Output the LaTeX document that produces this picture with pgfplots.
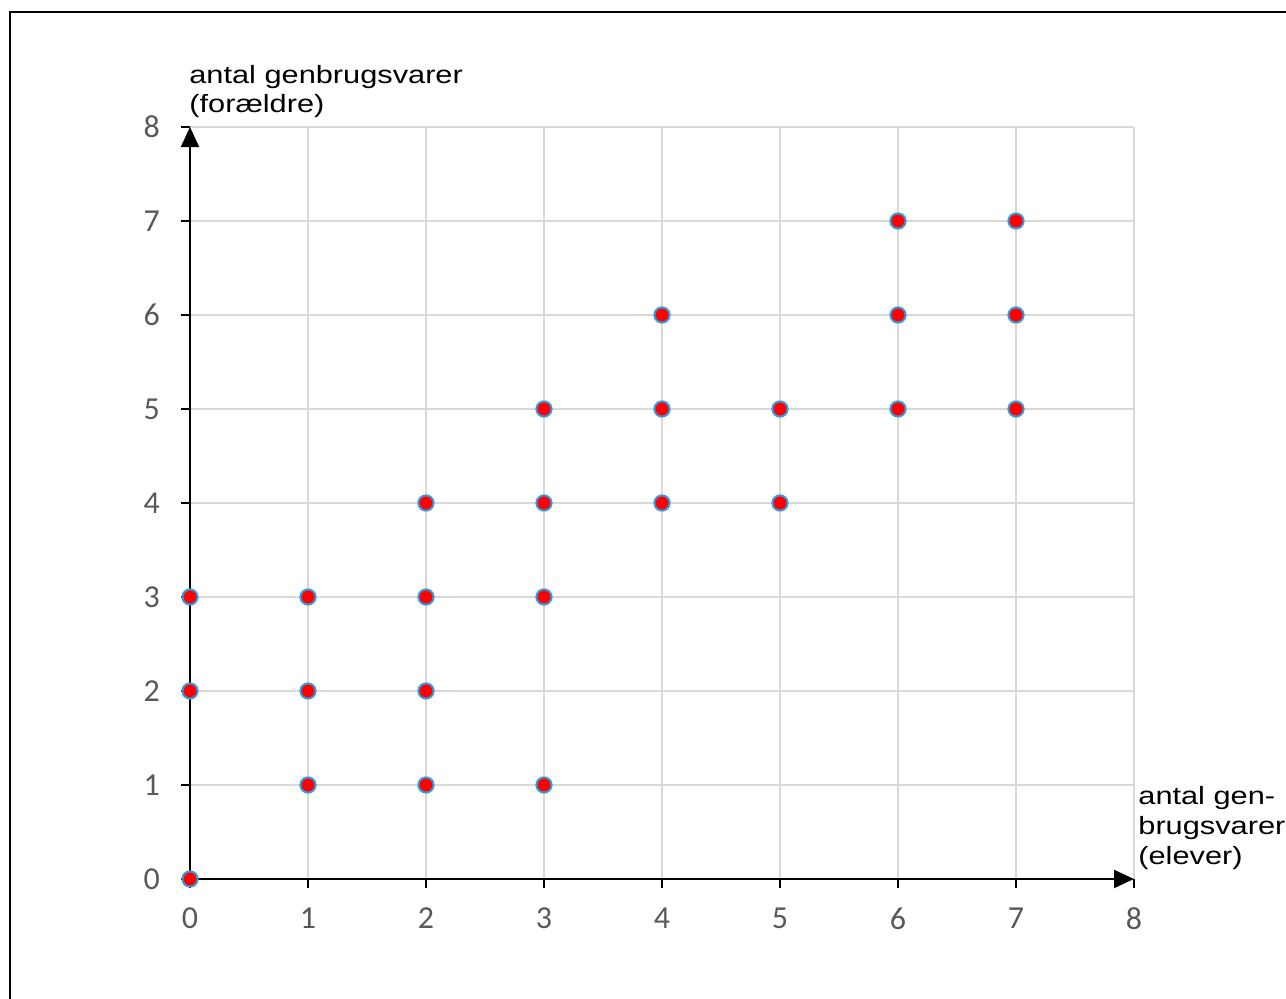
\documentclass[border=0pt]{standalone}
\usepackage{pgfplots}
\pgfplotsset{compat=1.18}
\usepackage{fontspec}
\usepackage{graphicx}
\setmainfont{Liberation Sans}
\newfontfamily\carlito{Carlito}
\usetikzlibrary{arrows.meta}
\definecolor{tickgray}{HTML}{595959}
\definecolor{gridgray}{HTML}{D9D9D9}
\definecolor{mkblue}{HTML}{3399DD}
\newcommand{\lbl}[1]{\fontsize{12.5}{14}\selectfont\scalebox{1.23}[1]{#1}}

\begin{document}
\begin{tikzpicture}[x=1pt,y=1pt]
\useasboundingbox (-95,-60) rectangle (548,439.5);
\draw[line width=1pt] (-90,-62) -- (-90,433.5) -- (550,433.5);
\begin{axis}[
  at={(0,0)}, anchor=south west,
  scale only axis, width=472pt, height=376pt,
  xmin=0, xmax=8, ymin=0, ymax=8,
  axis lines=left,
  axis line style={line width=1pt, -{Triangle[length=10pt,width=9pt]}},
  xtick={0,...,8}, ytick={0,...,8},
  grid=major, major grid style={gridgray, line width=1pt},
  tick style={black, line width=1pt},
  tick align=outside, major tick length=4.5pt,
  ticklabel style={font=\carlito\fontsize{16}{16}\selectfont, text=tickgray},
  xticklabel style={yshift=-6.5pt},
  yticklabel style={xshift=-7pt},
  /pgf/number format/assume math mode=true,
  clip=false,
]
\addplot[only marks, mark=*, mark size=3.8pt, mark options={draw=mkblue, fill=red, line width=1pt}]
coordinates {
(0,0) (0,2) (0,3)
(1,1) (1,2) (1,3)
(2,1) (2,2) (2,3) (2,4)
(3,1) (3,3) (3,4) (3,5)
(4,4) (4,5) (4,6)
(5,4) (5,5)
(6,5) (6,6) (6,7)
(7,5) (7,6) (7,7)
};
\end{axis}
\node[anchor=base west, inner sep=0] at (-0.5,397.5) {\lbl{antal genbrugsvarer}};
\node[anchor=base west, inner sep=0] at (-0.5,383) {\lbl{(forældre)}};
\node[anchor=base west, inner sep=0] at (474,37) {\lbl{antal gen-}};
\node[anchor=base west, inner sep=0] at (474,22) {\lbl{brugsvarer}};
\node[anchor=base west, inner sep=0] at (474,7) {\lbl{(elever)}};
\end{tikzpicture}
\end{document}
